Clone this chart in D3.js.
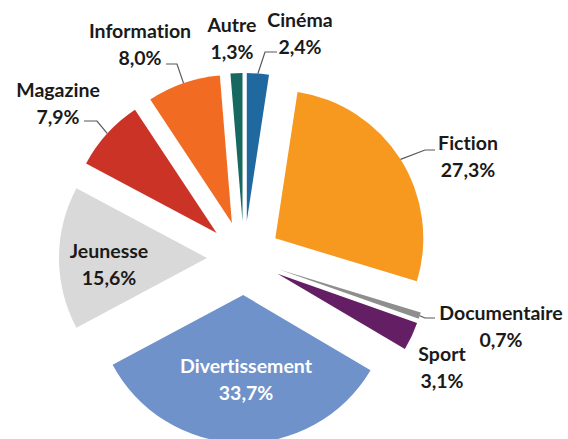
<!DOCTYPE html>
<html>
<head>
<meta charset="utf-8">
<script src="https://cdn.jsdelivr.net/npm/d3@7"></script>
<style>
  html, body { margin: 0; padding: 0; background: #fff; }
  text { font-family: Lato, "Open Sans", sans-serif; font-weight: bold; font-variant-ligatures: none; }
</style>
</head>
<body>
<div id="container"></div>
<script>
'use strict';

// data, clockwise from 12 o'clock
let categories = ['Cinéma', 'Fiction', 'Documentaire', 'Sport', 'Divertissement', 'Jeunesse', 'Magazine', 'Information', 'Autre'];
let values = [2.4, 27.3, 0.7, 3.1, 33.7, 15.6, 7.9, 8.0, 1.3];
let colors = ['#1f69a0', '#f7991e', '#8e8e8e', '#641f64', '#7092ca', '#d9d9d9', '#cb3327', '#f26b22', '#166860'];

// label block centres relative to the pie centre, and leader ends relative to the label
let labelOffset = [[56, -225], [224, -102], [257, 68], [198, 109], [2, 121], [-135, 6], [-186, -155], [-104, -214], [-12, -220]];
let leaders = { 0: [-23, 19, -12], 1: [-33, -6, -10], 2: [-66, -8, -10], 6: [26, 18, 13], 7: [26, 20, 11] };

let options = {
  width: 568,
  height: 439,
  cx: 244,
  cy: 258,
  radius: 148,
  explode: 37
};

let svg = d3.select('#container')
  .append('svg')
  .attr('width', options.width)
  .attr('height', options.height);

let data = categories.map((c, i) => ({ name: c, value: values[i], color: colors[i], idx: i }));

let pie = d3.pie().sort(null).value(d => d.value).startAngle(0).endAngle(2 * Math.PI);
let arcs = pie(data);
let arc = d3.arc().innerRadius(0).outerRadius(options.radius);

let g = svg.append('g').attr('transform', 'translate(' + options.cx + ',' + options.cy + ')');

let mid = d => (d.startAngle + d.endAngle) / 2;
let dir = a => [Math.sin(a), -Math.cos(a)];

g.selectAll('path.slice')
  .data(arcs)
  .enter()
  .append('path')
  .attr('class', 'slice')
  .attr('d', arc)
  .attr('fill', d => d.data.color)
  .attr('transform', d => {
    let v = dir(mid(d));
    return 'translate(' + v[0] * options.explode + ',' + v[1] * options.explode + ')';
  });

let fmt = v => v.toFixed(1).replace('.', ',') + '%';

// leader lines
arcs.forEach((d, i) => {
  let l = leaders[i];
  if (!l) return;
  let v = dir(mid(d));
  let r = options.radius + options.explode;
  let start = [v[0] * r, v[1] * r];
  let end = [labelOffset[i][0] + l[0], labelOffset[i][1] + l[1]];
  let elbow = [end[0] + l[2], end[1]];
  g.append('path')
    .attr('d', d3.line()([start, elbow, end]))
    .attr('fill', 'none')
    .attr('stroke', '#595959')
    .attr('stroke-width', 1.2);
});

// labels
let labels = g.selectAll('text.lbl')
  .data(arcs)
  .enter()
  .append('text')
  .attr('class', 'lbl')
  .attr('text-anchor', 'middle')
  .attr('font-size', 19.5)
  .attr('fill', d => d.data.name === 'Divertissement' ? '#ffffff' : '#1a1a1a')
  .attr('transform', (d, i) => 'translate(' + labelOffset[i][0] + ',' + labelOffset[i][1] + ')');

labels.append('tspan')
  .attr('x', 0)
  .attr('y', -6)
  .text(d => d.data.name);

labels.append('tspan')
  .attr('x', 0)
  .attr('y', 21)
  .text(d => fmt(d.data.value));
</script>
</body>
</html>
